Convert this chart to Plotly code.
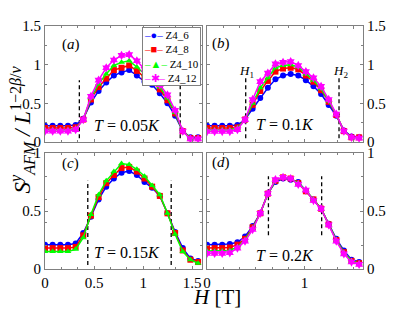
import plotly.graph_objects as go

# ---------------- data ----------------
H = [0.0, 0.078, 0.156, 0.234, 0.312, 0.39, 0.468, 0.546, 0.624, 0.702, 0.78,
     0.858, 0.936, 1.014, 1.092, 1.17, 1.248, 1.326, 1.404, 1.482, 1.56]

names = ["Z4_6", "Z4_8", "Z4_10", "Z4_12"]
colors = ["#0000ff", "#ff0000", "#00ff00", "#ff00ff"]
symbols = ["circle", "square", "triangle-up", "hexagram"]
legend_glyphs = ["●", "■", "▲", "✱"]

# panel (a) T = 0.05K
a_z6 = [0.21, 0.21, 0.21, 0.21, 0.22, 0.30, 0.51, 0.66, 0.77, 0.86, 0.90, 0.93, 0.86, 0.78, 0.74, 0.63, 0.50, 0.34, 0.14, 0.06, 0.06]
a_z8 = [0.18, 0.18, 0.18, 0.18, 0.19, 0.29, 0.55, 0.71, 0.82, 0.93, 0.96, 0.99, 0.92, 0.84, 0.78, 0.68, 0.54, 0.37, 0.14, 0.05, 0.05]
a_z10 = [0.16, 0.16, 0.16, 0.16, 0.17, 0.29, 0.57, 0.75, 0.88, 0.99, 1.03, 1.05, 0.97, 0.88, 0.81, 0.71, 0.57, 0.38, 0.14, 0.05, 0.05]
a_z12 = [0.14, 0.14, 0.14, 0.14, 0.16, 0.29, 0.59, 0.80, 0.96, 1.06, 1.12, 1.13, 1.05, 0.94, 0.85, 0.74, 0.61, 0.41, 0.14, 0.04, 0.04]

# panel (b) T = 0.1K
b_z6 = [0.21, 0.21, 0.21, 0.21, 0.22, 0.29, 0.43, 0.57, 0.70, 0.81, 0.86, 0.88, 0.86, 0.80, 0.72, 0.62, 0.48, 0.34, 0.15, 0.07, 0.06]
b_z8 = [0.18, 0.18, 0.18, 0.18, 0.19, 0.29, 0.48, 0.66, 0.79, 0.91, 0.95, 0.96, 0.94, 0.86, 0.78, 0.67, 0.52, 0.35, 0.14, 0.06, 0.06]
b_z10 = [0.16, 0.16, 0.16, 0.16, 0.18, 0.29, 0.50, 0.70, 0.83, 0.96, 0.99, 1.00, 0.97, 0.88, 0.80, 0.69, 0.53, 0.36, 0.14, 0.06, 0.05]
b_z12 = [0.135, 0.135, 0.135, 0.135, 0.16, 0.29, 0.55, 0.78, 0.89, 1.01, 1.03, 1.04, 0.99, 0.91, 0.83, 0.72, 0.55, 0.36, 0.14, 0.06, 0.05]

# panel (c) T = 0.15K
c_z6 = [0.21, 0.21, 0.21, 0.21, 0.22, 0.31, 0.45, 0.60, 0.71, 0.78, 0.83, 0.845, 0.81, 0.75, 0.70, 0.63, 0.48, 0.32, 0.18, 0.09, 0.07]
c_z8 = [0.18, 0.18, 0.18, 0.18, 0.19, 0.29, 0.46, 0.62, 0.74, 0.81, 0.87, 0.88, 0.84, 0.78, 0.71, 0.63, 0.48, 0.31, 0.16, 0.08, 0.06]
c_z10 = [0.15, 0.15, 0.15, 0.15, 0.17, 0.27, 0.47, 0.64, 0.76, 0.84, 0.91, 0.90, 0.86, 0.80, 0.72, 0.64, 0.48, 0.30, 0.15, 0.08, 0.05]

# panel (d) T = 0.2K
d_z6 = [0.21, 0.21, 0.21, 0.215, 0.23, 0.28, 0.37, 0.48, 0.65, 0.75, 0.78, 0.77, 0.75, 0.67, 0.60, 0.52, 0.39, 0.26, 0.16, 0.08, 0.06]
d_z8 = [0.18, 0.18, 0.18, 0.185, 0.21, 0.26, 0.36, 0.48, 0.65, 0.76, 0.79, 0.78, 0.74, 0.67, 0.60, 0.52, 0.385, 0.25, 0.145, 0.07, 0.05]
d_z10 = [0.155, 0.155, 0.155, 0.16, 0.19, 0.25, 0.35, 0.48, 0.65, 0.76, 0.79, 0.78, 0.74, 0.68, 0.60, 0.52, 0.385, 0.25, 0.14, 0.07, 0.05]
d_z12 = [0.135, 0.135, 0.135, 0.14, 0.18, 0.24, 0.34, 0.48, 0.65, 0.77, 0.79, 0.78, 0.73, 0.68, 0.59, 0.52, 0.38, 0.24, 0.13, 0.06, 0.04]

# dashed guide lines (H1, H2) and their vertical extent
a_vlines, a_vspan = [0.35, 1.378], [0.05, 0.80]
b_vlines, b_vspan = [0.397, 1.354], [0.05, 0.84]
c_vlines, c_vspan = [0.436, 1.286], [0.035, 0.76]
d_vlines, d_vspan = [0.63, 1.176], [0.29, 0.80]

temps = ["0.05", "0.1", "0.15", "0.2"]
panel_letters = ["a", "b", "c", "d"]

x_ticks_c = [0, 0.5, 1, 1.5]
x_ticks_d = [0, 1]
y_ticks_top = [0, 0.5, 1, 1.5]
y_ticks_bot = [0, 0.5, 1]

# ---------------- figure ----------------
PAGE_W, PAGE_H, BODY = 415, 311, 8   # page has an 8px body margin
W, Hgt = PAGE_W - BODY, PAGE_H - BODY
SERIF = "Liberation Serif"

fig = go.Figure()

panels = [
    ("x", "y", [a_z6, a_z8, a_z10, a_z12], a_vlines, a_vspan),
    ("x2", "y2", [b_z6, b_z8, b_z10, b_z12], b_vlines, b_vspan),
    ("x3", "y3", [c_z6, c_z8, c_z10], c_vlines, c_vspan),
    ("x4", "y4", [d_z6, d_z8, d_z10, d_z12], d_vlines, d_vspan),
]

for xa, ya, series, vl, vs in panels:
    fig.add_trace(go.Scatter(
        x=[vl[0], vl[0], None, vl[1], vl[1]],
        y=[vs[0], vs[1], None, vs[0], vs[1]],
        mode="lines", line=dict(color="black", width=1.3, dash="4px,3px"),
        xaxis=xa, yaxis=ya, showlegend=False, hoverinfo="skip"))
    for k, s in enumerate(series):
        fig.add_trace(go.Scatter(
            x=H, y=s, mode="lines+markers", name=names[k],
            line=dict(color=colors[k], width=1.5),
            marker=dict(color=colors[k], symbol=symbols[k], size=6 if k < 3 else 7,
                        line=dict(width=0)),
            xaxis=xa, yaxis=ya, showlegend=False))


def px(v):
    return (v - BODY) / W


def py(v):
    return 1 - (v - BODY) / Hgt


base = dict(showline=True, mirror="ticks", linecolor="#808080", linewidth=1,
            ticks="inside", ticklen=3, tickcolor="#808080", showgrid=False,
            zeroline=False, automargin=False,
            tickfont=dict(family=SERIF, size=15, color="black"))

xdom_l = [px(45), px(202)]
xdom_r = [px(207), px(363)]
ydom_t = [py(142), py(26)]
ydom_b = [py(269), py(153)]

xminor = dict(ticks="inside", ticklen=2, tickcolor="#808080", dtick=1 / 6, tick0=0)
yminor_t = dict(ticks="inside", ticklen=2, tickcolor="#808080", dtick=0.25, tick0=0)
yminor_b = dict(ticks="inside", ticklen=2, tickcolor="#808080", dtick=0.2, tick0=0)

fig.update_layout(
    width=W, height=Hgt, margin=dict(l=0, r=0, t=0, b=0),
    paper_bgcolor="white", plot_bgcolor="white", showlegend=False,
    xaxis=dict(base, domain=xdom_l, range=[0, 1.6], anchor="y",
               tickvals=x_ticks_c, showticklabels=False, minor=xminor),
    xaxis2=dict(base, domain=xdom_r, range=[0, 1.6], anchor="y2",
                tickvals=x_ticks_c, showticklabels=False, minor=xminor),
    xaxis3=dict(base, domain=xdom_l, range=[0, 1.6], anchor="y3",
                tickvals=x_ticks_c, ticktext=[str(v) for v in x_ticks_c], minor=xminor),
    xaxis4=dict(base, domain=xdom_r, range=[0, 1.6], anchor="y4",
                tickvals=x_ticks_d, ticktext=[str(v) for v in x_ticks_d], minor=xminor),
    yaxis=dict(base, domain=ydom_t, range=[0, 1.5], anchor="x",
               tickvals=y_ticks_top, ticktext=["0", "0.5", "1", "1.5"], minor=yminor_t),
    yaxis2=dict(base, domain=ydom_t, range=[0, 1.5], anchor="x2", side="right",
                tickvals=y_ticks_top, ticktext=["0", "0.5", "1", "1.5"], minor=yminor_t),
    yaxis3=dict(base, domain=ydom_b, range=[0, 1], anchor="x3",
                tickvals=y_ticks_bot, ticktext=["0", "0.5", "1"], minor=yminor_b),
    yaxis4=dict(base, domain=ydom_b, range=[0, 1], anchor="x4", side="right",
                tickvals=y_ticks_bot, ticktext=["0", "0.5", "1"], minor=yminor_b),
)

ann = []
# panel letters
letter_pos = [(60, 34), (221, 33), (60, 163), (221, 162)]
for (lx, ly), L in zip(letter_pos, panel_letters):
    ann.append(dict(x=px(lx), y=py(ly), xref="paper", yref="paper", showarrow=False,
                    text=f"(<i>{L}</i>)", font=dict(family=SERIF, size=15, color="black")))
# temperature labels
t_pos = [("x", "y", 0.84, 0.21), ("x2", "y2", 0.80, 0.22),
         ("x3", "y3", 0.84, 0.14), ("x4", "y4", 0.80, 0.12)]
for (xa, ya, tx, ty), T in zip(t_pos, temps):
    ann.append(dict(x=tx, y=ty, xref=xa, yref=ya, showarrow=False,
                    text=f"<i>T</i> = {T}<i>K</i>",
                    font=dict(family=SERIF, size=16, color="black")))
# H1 / H2
ann.append(dict(x=0.41, y=0.91, xref="x2", yref="y2", showarrow=False,
                text="<i>H</i><sub>1</sub>", font=dict(family=SERIF, size=13, color="black")))
ann.append(dict(x=1.374, y=0.91, xref="x2", yref="y2", showarrow=False,
                text="<i>H</i><sub>2</sub>", font=dict(family=SERIF, size=13, color="black")))
# axis titles
ann.append(dict(x=px(4), y=py(130), xref="paper", yref="paper", showarrow=False,
                xanchor="left", textangle=-90,
                text="<i>S</i><sup><i>y</i></sup><sub><i>AFM</i></sub> <i>/ L</i><sup>1−2<i>β</i>/<i>ν</i></sup>",
                font=dict(family=SERIF, size=23, color="black")))
ann.append(dict(x=px(217), y=py(311), xref="paper", yref="paper", showarrow=False,
                yanchor="bottom",
                text="<i>H</i> [T]", font=dict(family=SERIF, size=21, color="black")))
# legend box
leg_lines = [f"<span style='color:{c}'>–{g}–</span> {n}"
             for c, g, n in zip(colors, legend_glyphs, names)]
ann.append(dict(x=px(201), y=py(27), xref="paper", yref="paper", showarrow=False,
                xanchor="right", yanchor="top", align="left",
                text="<br>".join(leg_lines), bgcolor="white",
                bordercolor="#808080", borderwidth=1, borderpad=1,
                font=dict(family=SERIF, size=11, color="black")))

fig.update_layout(annotations=ann)
fig.write_html("out.html")
